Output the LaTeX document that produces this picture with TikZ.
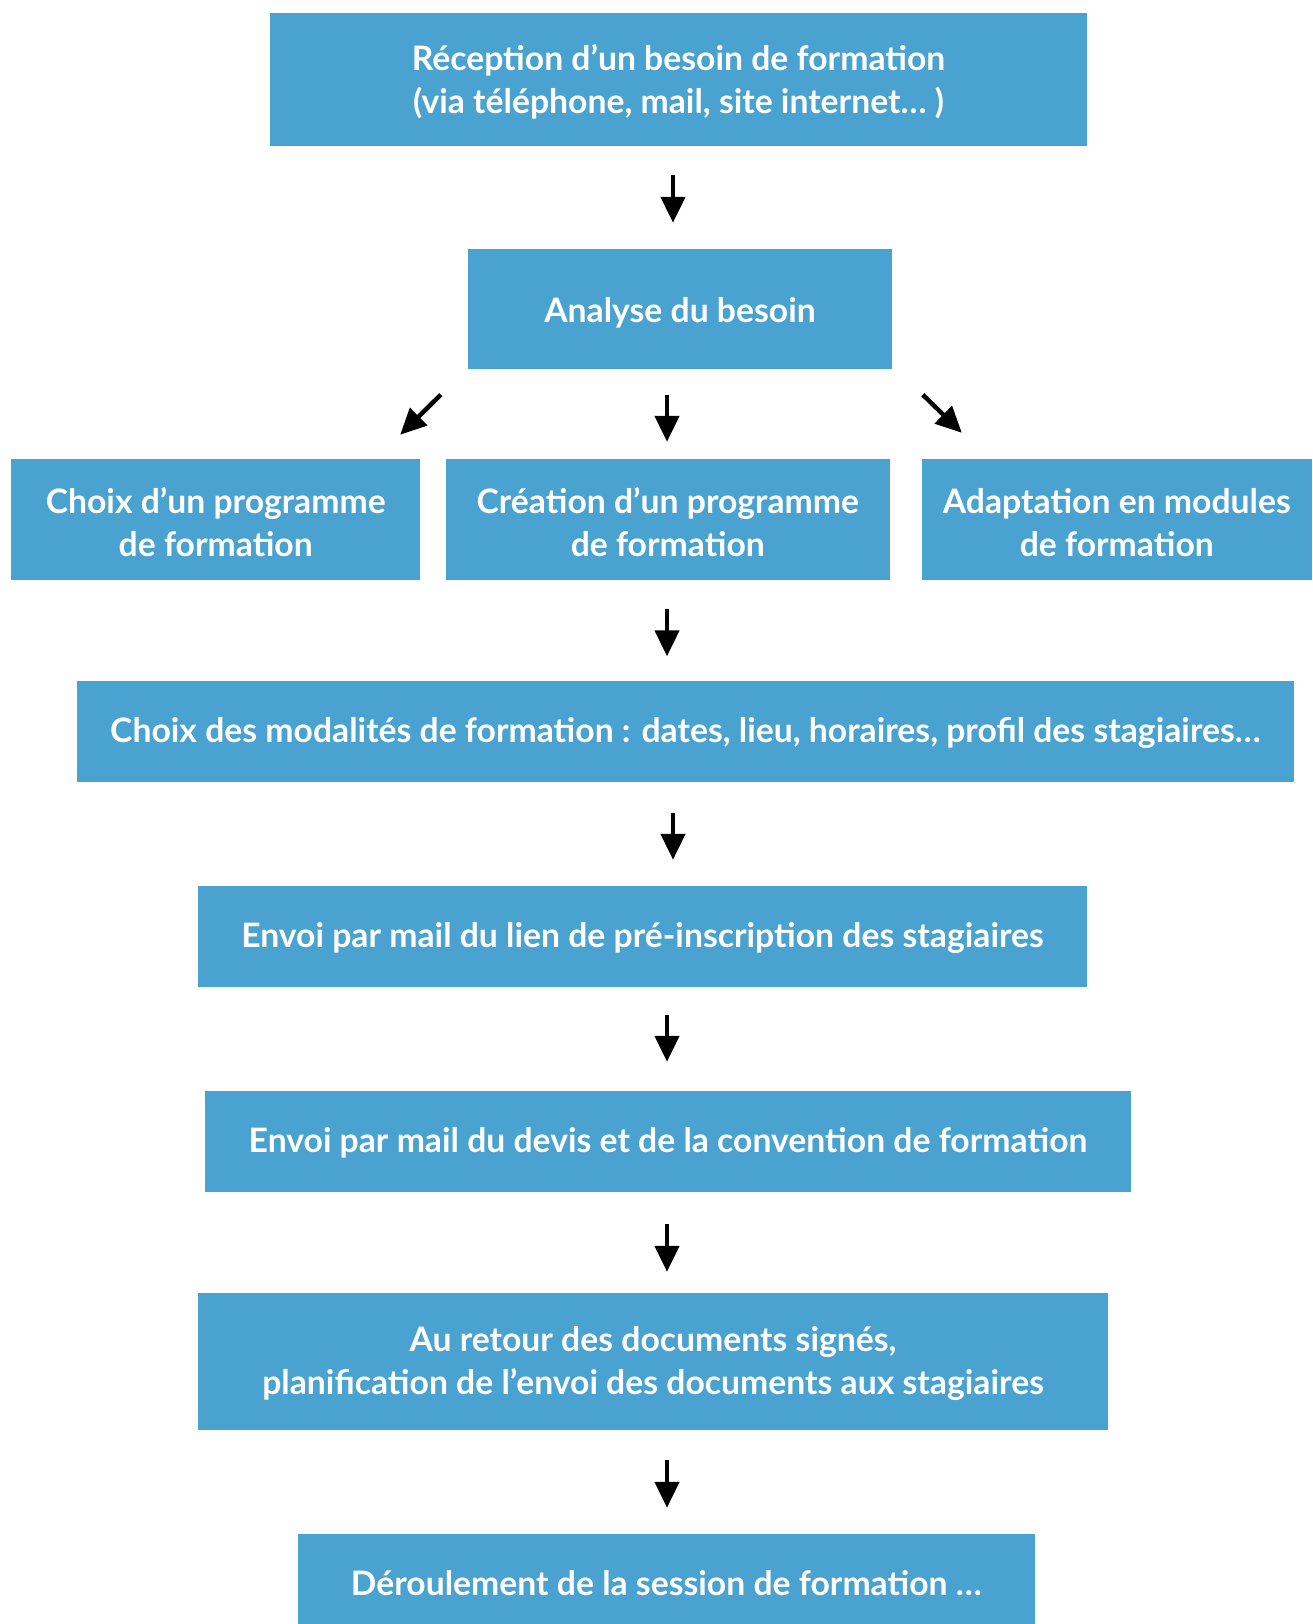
\documentclass[tikz,border=0pt]{standalone}
\usepackage{fontspec}
\setmainfont{Lato}
\usetikzlibrary{arrows.meta,calc}
\definecolor{boxblue}{HTML}{49A2CF}
\def\strutH{33pt}
\newcommand\mytopstrut[1]{\rule{0pt}{#1}}
\tikzset{
  sh/.code={\def\strutH{#1}},
  box/.style={rectangle, fill=boxblue, text=white, inner sep=0pt, align=center,
    font=\fontsize{33.7}{43}\selectfont\bfseries,
    execute at begin node={\rule{0pt}{\strutH}},
    execute at end node={\rule[-11pt]{0pt}{11pt}}},
  arr/.style={line width=4.5pt, -{Triangle[length=26pt,width=24pt]}},
}
\begin{document}
\begin{tikzpicture}[x=1pt,y=-1pt]
\useasboundingbox (0,0) rectangle (1312,1624);
\coordinate (xa) at (673,0);
\coordinate (xb) at (667,0);
\node[box, minimum width=817pt, minimum height=132.5pt] (r1) at (678.5,79.75)
  {\mytopstrut{35.5pt}Réception d’un besoin de formation\\(via téléphone, mail, site internet… )};
\node[box, sh=39pt, minimum width=424pt, minimum height=120.5pt] (r2) at (680,308.75) {Analyse du besoin};
\node[box, minimum width=408.6pt, minimum height=121pt] (r3) at (215.7,519.5) {\mytopstrut{41pt}Choix d’un programme\\de formation};
\node[box, minimum width=443.5pt, minimum height=121pt] (r4) at (667.75,519.5) {\mytopstrut{41pt}Création d’un programme\\de formation};
\node[box, minimum width=390.4pt, minimum height=121pt] (r5) at (1116.8,519.5) {\mytopstrut{41pt}Adaptation en modules\\de formation};
\node[box, minimum width=1217.4pt, minimum height=101pt] (r6) at (685.3,731.5) {Choix des modalités de formation : dates, lieu, horaires, profil des stagiaires…};
\node[box, minimum width=889pt, minimum height=101pt] (r7) at (642.5,936.5) {Envoi par mail du lien de pré-inscription des stagiaires};
\node[box, minimum width=926pt, minimum height=101pt] (r8) at (668,1141.5) {Envoi par mail du devis et de la convention de formation};
\node[box, minimum width=910pt, minimum height=137pt] (r9) at (653,1361.5) {\mytopstrut{34.6pt}Au retour des documents signés,\\planification de l’envoi des documents aux stagiaires};
\node[box, sh=43.5pt, minimum width=736.5pt, minimum height=90.4pt] (r10) at (666.25,1578.8) {Déroulement de la session de formation …};

\draw[arr, shorten <=29pt, shorten >=25.5pt] (r1.south -| xa) -- (r2.north -| xa);
\draw[arr] ($(r2.south west)+(-27,25.5)$) -- ($(r3.north east)+(-20,-24)$);
\draw[arr, shorten <=25.5pt, shorten >=17pt] (r2.south -| xb) -- (r4.north -| xb);
\draw[arr] ($(r2.south east)+(30.6,25.5)$) -- ($(r5.north west)+(40.4,-26)$);
\draw[arr, shorten <=29pt, shorten >=24.5pt] (r4.south -| xb) -- (r6.north -| xb);
\draw[arr, shorten <=31pt, shorten >=26pt] (r6.south -| xa) -- (r7.north -| xa);
\draw[arr, shorten <=28pt, shorten >=29pt] (r7.south -| xb) -- (r8.north -| xb);
\draw[arr, shorten <=32pt, shorten >=21pt] (r8.south -| xb) -- (r9.north -| xb);
\draw[arr, shorten <=30pt, shorten >=25.6pt] (r9.south -| xb) -- (r10.north -| xb);
\end{tikzpicture}
\end{document}
